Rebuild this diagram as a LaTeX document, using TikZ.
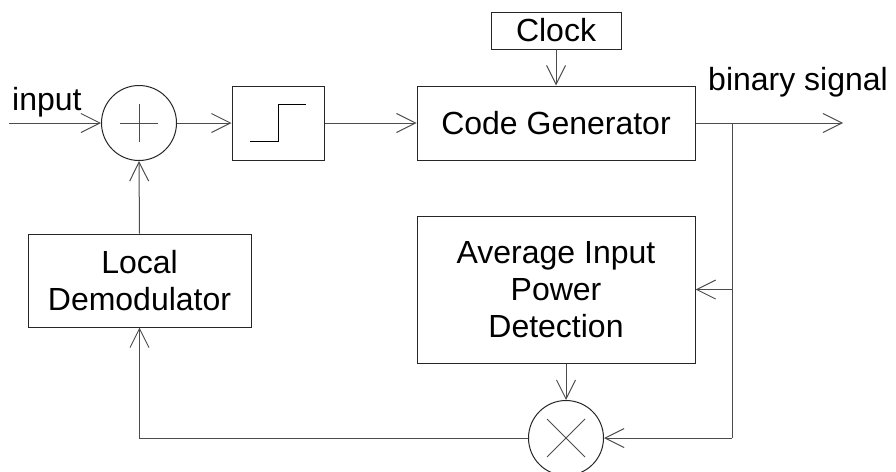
\documentclass[tikz,border=0pt]{standalone}
\usepackage{fontspec}
\setmainfont{Liberation Sans}
\usetikzlibrary{arrows.meta,calc}
\begin{document}
\begin{tikzpicture}[x=1pt,y=-1pt,
  every node/.style={font=\fontsize{32}{37}\selectfont},
  blk/.style={draw=black!85,line width=1pt,rectangle,inner sep=0pt,align=center},
  junction/.style={draw=black!85,line width=1pt,circle,inner sep=0pt,minimum size=75pt},
  wire/.style={draw=black!70,line width=1pt},
  flow/.style={wire,-{Straight Barb[length=19pt,width=19pt,line width=1pt]}},
  lbl/.style={inner sep=0pt}
]
\useasboundingbox (0,0) rectangle (896,471);

% blocks
\node[blk,minimum width=130pt,minimum height=37pt] (clk) at (556,30.5) {Clock};
\node[blk,minimum width=278pt,minimum height=74pt] (cg) at (556,123) {Code Generator};
\node[blk,minimum width=92pt,minimum height=74pt] (lim) at (278,123) {};
\node[blk,minimum width=278pt,minimum height=147pt] (avg) at (556,289.5)
  {Average Input\\Power\\Detection};
\node[blk,minimum width=223pt,minimum height=93pt] (ld) at (139.5,280.5)
  {Local\\Demodulator};
\node[junction] (sum) at (139,123) {};
\node[junction] (mul) at (566,438) {};

% symbols inside the hard limiter and the junctions
\draw[line width=1pt] ($(lim.center)+(-28,18)$) -- ++(28,0) -- ++(0,-37) -- ++(28,0);
\draw[wire] ($(sum.center)+(-19,0)$) -- ++(38,0);
\draw[wire] ($(sum.center)+(0,-19)$) -- ++(0,38);
\draw[wire] ($(mul.center)+(-19,-19)$) -- ++(38,38);
\draw[wire] ($(mul.center)+(19,-19)$) -- ++(-38,38);

% free ends and branch point
\coordinate (in) at (9,123);
\coordinate (out) at (843,123);
\coordinate (br) at (732,123);
\coordinate (brlow) at (732,438);

% labels
\node[lbl,anchor=base west] (inlbl) at (12,110) {input};
\node[lbl,anchor=base west] (outlbl) at (708,90) {binary signal};

% forward path
\draw[flow] (in) -- (sum.west);
\draw[flow] (sum.east) -- (lim.west);
\draw[flow] (lim.east) -- (cg.west);
\draw[flow] (clk.south) -- (cg.north);
\draw[flow] (cg.east) -- (out);

% feedback path
\draw[wire] (br) -- (brlow);
\draw[flow] (br |- avg.east) -- (avg.east);
\draw[flow] (brlow) -- (mul.east);
\draw[flow] (mul.north |- avg.south) -- (mul.north);
\draw[flow] (mul.west) -- (mul.west -| ld.south) -- (ld.south);
\draw[flow] (ld.north) -- (sum.south);
\end{tikzpicture}
\end{document}
